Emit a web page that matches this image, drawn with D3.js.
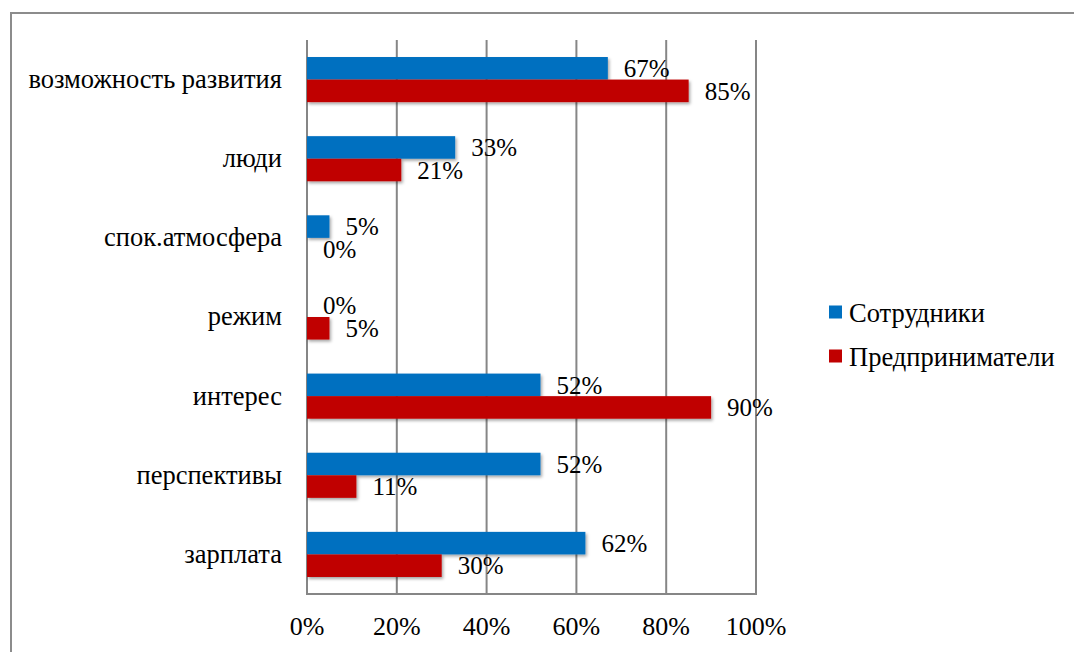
<!DOCTYPE html>
<html><head><meta charset="utf-8">
<script src="https://cdn.jsdelivr.net/npm/d3@7"></script>
<style>html,body{margin:0;padding:0;background:#fff;}svg{display:block;}</style>
</head><body>
<svg id="chart" width="1074" height="652"></svg>
<script>
const categories = ["возможность развития","люди","спок.атмосфера","режим","интерес","перспективы","зарплата"];
const seriesNames = ["Сотрудники","Предприниматели"];
const employees = [67,33,5,0,52,52,62];
const entrepreneurs = [85,21,0,5,90,11,30];
const tickValues = [0,20,40,60,80,100];
const colors = ["#0070C0","#C00000"];
const FONT = '"Liberation Serif"';

const svg = d3.select("#chart");

// outer frame
svg.append("path").attr("d","M11,660 L11,13 L1080,13").attr("fill","none").attr("stroke","#8c8c8c").attr("stroke-width",2);

const x = d3.scaleLinear().domain([0,100]).range([307,756]);
const y = d3.scaleBand().domain(categories).range([40,594]).paddingInner(0.43).paddingOuter(0.215);
const yS = d3.scaleBand().domain(seriesNames).range([0,y.bandwidth()]);

const defs = svg.append("defs");
const f = defs.append("filter").attr("id","sh").attr("x","-10%").attr("y","-30%").attr("width","130%").attr("height","180%");
f.append("feDropShadow").attr("dx",1.5).attr("dy",2).attr("stdDeviation",1.5).attr("flood-color","#000").attr("flood-opacity",0.35);

svg.append("g").selectAll("line").data(tickValues).join("line")
  .attr("x1",d=>x(d)).attr("x2",d=>x(d)).attr("y1",40).attr("y2",594)
  .attr("stroke","#868686").attr("stroke-width",2);
svg.append("line").attr("x1",306).attr("x2",757).attr("y1",594).attr("y2",594).attr("stroke","#868686").attr("stroke-width",2);

const data = [];
categories.forEach((c,i)=>{
  data.push({cat:c,s:seriesNames[0],v:employees[i],ci:0});
  data.push({cat:c,s:seriesNames[1],v:entrepreneurs[i],ci:1});
});

svg.append("g").attr("filter","url(#sh)").selectAll("rect").data(data).join("rect")
  .attr("x",x(0)).attr("y",d=>y(d.cat)+yS(d.s))
  .attr("width",d=>x(d.v)-x(0)).attr("height",yS.bandwidth())
  .attr("fill",d=>colors[d.ci]);

svg.append("g").selectAll("text").data(data).join("text")
  .attr("x",d=>x(d.v)+16).attr("y",d=>y(d.cat)+yS(d.s)+yS.bandwidth()/2)
  .attr("dy","0.35em")
  .style("font-family",FONT).style("font-size","25px").attr("fill","#000")
  .text(d=>d.v+"%");

svg.append("g").selectAll("text").data(categories).join("text")
  .attr("x",282).attr("y",d=>y(d)+y.bandwidth()/2).attr("dy","0.32em")
  .attr("text-anchor","end").style("font-family",FONT).style("font-size","26.5px").attr("fill","#000")
  .text(d=>d);

svg.append("g").selectAll("text").data(tickValues).join("text")
  .attr("x",d=>x(d)).attr("y",626).attr("dy","0.35em")
  .attr("text-anchor","middle").style("font-family",FONT).style("font-size","26px").attr("fill","#000")
  .text(d=>d+"%");

const lg = svg.append("g");
seriesNames.forEach((s,i)=>{
  const yy = 313 + i*44;
  lg.append("rect").attr("x",829).attr("y",yy-7.5).attr("width",13).attr("height",13).attr("fill",colors[i]);
  lg.append("text").attr("x",849).attr("y",yy).attr("dy","0.33em")
    .style("font-family",FONT).style("font-size","26.5px").attr("fill","#000").text(s);
});
</script>
</body></html>
